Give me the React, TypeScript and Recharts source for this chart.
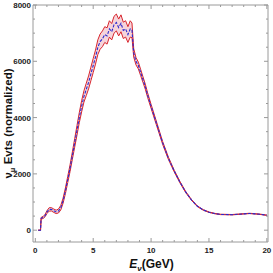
import React from "react";
import { ComposedChart, Area, Line, XAxis, YAxis } from "recharts";

// neutrino energy (GeV)
const energy = [
  0.25, 0.45, 0.5, 0.7, 0.85, 1.0, 1.2, 1.4, 1.6, 1.8, 2.0, 2.2, 2.4, 2.6, 2.8,
  3.0, 3.2, 3.4, 3.6, 3.8, 4.0, 4.2, 4.4, 4.6, 4.8, 5.0, 5.2, 5.4, 5.6, 5.8,
  6.0, 6.2, 6.4, 6.6, 6.8, 7.0, 7.2, 7.4, 7.6, 7.8, 8.0, 8.2, 8.35, 8.5, 8.7,
  8.9, 9.1, 9.3, 9.5, 9.7, 10.0, 10.5, 11.0, 11.5, 12.0, 12.5, 13.0, 13.5,
  14.0, 14.5, 15.0, 15.5, 16.0, 17.0, 18.0, 18.5, 19.0, 19.5, 20.0,
];

const central = [
  0, 0, 420, 460, 520, 640, 740, 740, 690, 650, 680, 800, 1050, 1400, 1800,
  2200, 2650, 3100, 3550, 4000, 4400, 4750, 5000, 5250, 5550, 5850, 6150, 6500,
  6700, 6800, 6950, 6900, 7150, 7050, 7300, 7380, 7200, 7350, 7100, 7150, 6950,
  7150, 7100, 6300, 6000, 5850, 5600, 5350, 5100, 4800, 4400, 3750, 3100, 2550,
  2100, 1700, 1350, 1070, 850, 720, 640, 590, 560, 550, 580, 595, 580, 560, 530,
];

const upper = [
  0, 0, 450, 500, 560, 690, 800, 800, 750, 710, 750, 880, 1140, 1500, 1910,
  2320, 2780, 3250, 3720, 4180, 4600, 4950, 5220, 5480, 5790, 6100, 6400, 6760,
  6970, 7080, 7230, 7190, 7440, 7340, 7600, 7680, 7500, 7650, 7390, 7440, 7230,
  7440, 7360, 6450, 6130, 5970, 5710, 5450, 5190, 4880, 4470, 3810, 3150, 2590,
  2130, 1725, 1370, 1085, 862, 730, 648, 597, 567, 556, 586, 601, 586, 566, 536,
];

const lower = [
  0, 0, 390, 420, 480, 590, 680, 680, 630, 590, 610, 720, 960, 1300, 1690,
  2080, 2520, 2950, 3380, 3820, 4200, 4550, 4780, 5020, 5310, 5600, 5900, 6240,
  6430, 6520, 6670, 6610, 6860, 6760, 7000, 7080, 6900, 7050, 6810, 6860, 6670,
  6860, 6840, 6150, 5870, 5730, 5490, 5250, 5010, 4720, 4330, 3690, 3050, 2510,
  2070, 1675, 1330, 1055, 838, 710, 632, 583, 553, 544, 574, 589, 574, 554, 524,
];

const xTicks = Array.from({ length: 21 }, (_, i) => i);
const yTicks = Array.from({ length: 17 }, (_, i) => i * 500);

const data = energy.map((e, i) => ({
  e,
  central: central[i],
  upper: upper[i],
  lower: lower[i],
  band: [lower[i], upper[i]],
}));

const FRAME = "#9a9a9a";
const FONT = "'Liberation Sans', Arial, sans-serif";

function BottomTick(props: any) {
  const { x, y, payload } = props;
  const major = payload.value % 5 === 0;
  return (
    <g>
      <line x1={x} x2={x} y1={y} y2={y - (major ? 4 : 2)} stroke={FRAME} />
      {major && (
        <text x={x} y={y + 11} textAnchor="middle" fontSize={8} fontWeight="bold" fill="#222" fontFamily={FONT}>
          {payload.value}
        </text>
      )}
    </g>
  );
}

function TopTick(props: any) {
  const { x, y, payload } = props;
  const major = payload.value % 5 === 0;
  return <line x1={x} x2={x} y1={y} y2={y + (major ? 4 : 2)} stroke={FRAME} />;
}

function LeftTick(props: any) {
  const { x, y, payload } = props;
  const major = payload.value % 2000 === 0;
  return (
    <g>
      <line x1={x} x2={x + (major ? 4 : 2)} y1={y} y2={y} stroke={FRAME} />
      {major && (
        <text x={x - 2} y={y + 3} textAnchor="end" fontSize={8} fontWeight="bold" fill="#222" fontFamily={FONT}>
          {payload.value}
        </text>
      )}
    </g>
  );
}

function RightTick(props: any) {
  const { x, y, payload } = props;
  const major = payload.value % 2000 === 0;
  return <line x1={x} x2={x - (major ? 4 : 2)} y1={y} y2={y} stroke={FRAME} />;
}

function XTitle(props: any) {
  const { viewBox } = props;
  const cx = viewBox.x + viewBox.width / 2 + 1;
  return (
    <text x={cx} y={viewBox.y + 26} textAnchor="middle" fontSize={12} fontWeight="bold" fill="#111" fontFamily={FONT}>
      <tspan fontStyle="italic">E</tspan>
      <tspan fontSize={8} dy={3} fontStyle="italic">ν</tspan>
      <tspan dy={-3}>(GeV)</tspan>
    </text>
  );
}

function YTitle(props: any) {
  const { viewBox } = props;
  const cy = viewBox.y + viewBox.height / 2;
  const tx = 12;
  return (
    <text
      x={tx}
      y={cy}
      transform={`rotate(-90 ${tx} ${cy})`}
      textAnchor="middle"
      fontSize={11.5}
      fontWeight="bold"
      fill="#111"
      fontFamily={FONT}
    >
      <tspan>ν</tspan>
      <tspan fontSize={7.5} dy={3}>μ</tspan>
      <tspan dy={-3}> Evts (normalized)</tspan>
    </text>
  );
}

export default function App() {
  return (
    <div style={{ position: "absolute", left: 0, top: 0, width: 273, height: 273, background: "#fff" }}>
      <ComposedChart width={273} height={273} data={data} margin={{ top: 4, right: 4, bottom: 0, left: 0 }}>
        <XAxis
          xAxisId="b"
          dataKey="e"
          type="number"
          domain={[-0.2, 20.1]}
          ticks={xTicks}
          interval={0}
          height={31}
          tickSize={0}
          tickMargin={0}
          tick={<BottomTick />}
          tickLine={false}
          axisLine={{ stroke: FRAME }}
          label={<XTitle />}
        />
        <XAxis
          xAxisId="t"
          orientation="top"
          dataKey="e"
          type="number"
          domain={[-0.2, 20.1]}
          ticks={xTicks}
          interval={0}
          height={1}
          tickSize={0}
          tickMargin={0}
          tick={<TopTick />}
          tickLine={false}
          axisLine={{ stroke: FRAME }}
        />
        <YAxis
          yAxisId="l"
          type="number"
          domain={[-420, 8000]}
          ticks={yTicks}
          interval={0}
          width={33}
          tickSize={0}
          tickMargin={0}
          tick={<LeftTick />}
          tickLine={false}
          axisLine={{ stroke: FRAME }}
          allowDataOverflow
          label={<YTitle />}
        />
        <YAxis
          yAxisId="r"
          orientation="right"
          type="number"
          domain={[-420, 8000]}
          ticks={yTicks}
          interval={0}
          width={1}
          tickSize={0}
          tickMargin={0}
          tick={<RightTick />}
          tickLine={false}
          axisLine={{ stroke: FRAME }}
          allowDataOverflow
        />
        <Area
          xAxisId="b"
          yAxisId="l"
          dataKey="band"
          type="linear"
          stroke="none"
          fill="#f4ccd3"
          fillOpacity={0.85}
          isAnimationActive={false}
        />
        <Line xAxisId="b" yAxisId="l" dataKey="upper" type="linear" stroke="#d8262e" strokeWidth={1} dot={false} isAnimationActive={false} />
        <Line xAxisId="b" yAxisId="l" dataKey="lower" type="linear" stroke="#d8262e" strokeWidth={1} dot={false} isAnimationActive={false} />
        <Line
          xAxisId="b"
          yAxisId="l"
          dataKey="central"
          type="linear"
          stroke="#2a2ad0"
          strokeWidth={1.1}
          strokeDasharray="3 1.5"
          dot={false}
          isAnimationActive={false}
        />
      </ComposedChart>
    </div>
  );
}
